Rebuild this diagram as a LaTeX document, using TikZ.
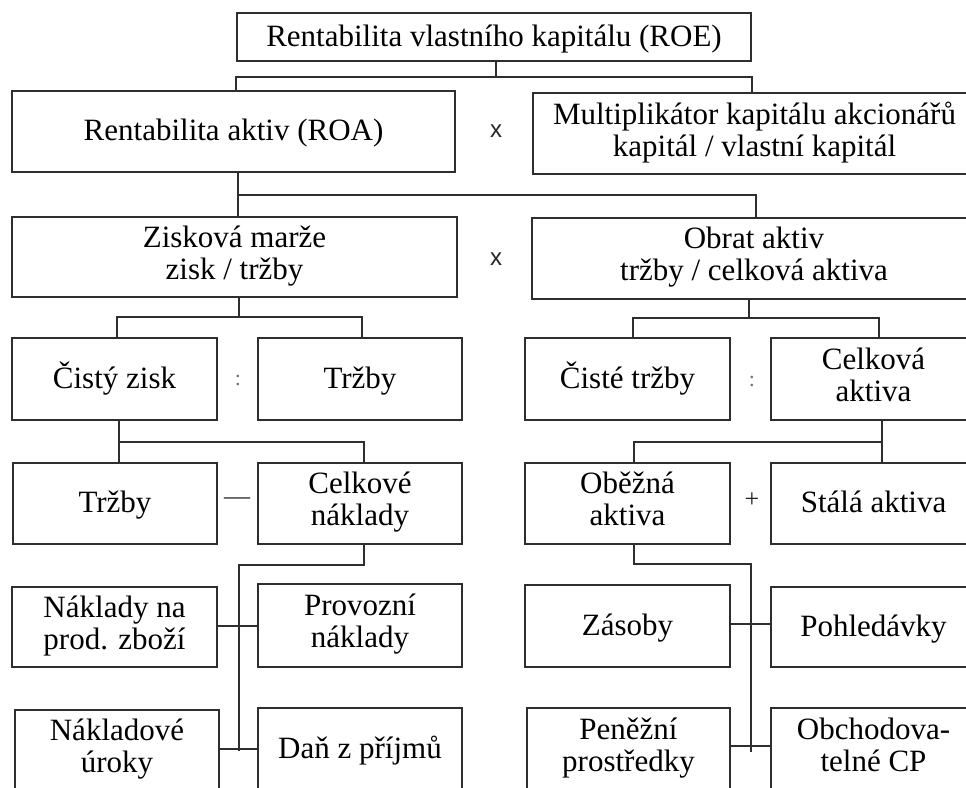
\documentclass[tikz,border=0pt]{standalone}
\usepackage{fontspec}
\setmainfont{Liberation Serif}
\newfontfamily\opfont{Liberation Sans}
\definecolor{linec}{HTML}{2E2E2E}
\tikzset{
  box/.style={draw=linec, line width=1.6pt, fill=white, inner sep=0pt, align=center,
    font=\fontsize{31}{32}\selectfont, text=black,
    execute at begin node={\rule{0pt}{27pt}}, execute at end node={\rule[-9pt]{0pt}{0pt}}},
  conn/.style={draw=linec, line width=1.6pt},
  opx/.style={inner sep=0pt, font=\opfont\fontsize{24}{24}\selectfont, text=black!85},
  opc/.style={inner sep=0pt, font=\fontsize{22}{22}\selectfont, text=black!55},
  opm/.style={inner sep=0pt, font=\fontsize{26}{26}\selectfont, text=black!85}
}
\begin{document}
\begin{tikzpicture}[x=1pt,y=-1pt]
\useasboundingbox (0,0) rectangle (966,787);
\clip (0,0) rectangle (966,787);
\fill[white] (0,0) rectangle (966,787);

\coordinate (trunkL) at (239,751);
\coordinate (trunkR) at (751,752);

% nodes
\node[box, minimum width=514pt, minimum height=48pt] (roe) at (494,37) {Rentabilita vlastního kapitálu (ROE)};
\node[box, minimum width=443pt, minimum height=81pt] (roa) at (233.5,131.5) {Rentabilita aktiv (ROA)};
\node[box, minimum width=443pt, minimum height=81pt] (mult) at (754.5,133.5) {Multiplikátor kapitálu akcionářů\\kapitál / vlastní kapitál};
\node[box, minimum width=445pt, minimum height=80pt] (zisk) at (234.5,257) {Zisková marže\\zisk / tržby};
\node[box, minimum width=444pt, minimum height=81pt] (obrat) at (754,258.5) {Obrat aktiv\\tržby / celková aktiva};

\node[box, minimum width=205pt, minimum height=82pt] (cz) at (114.5,379) {Čistý zisk};
\node[box, minimum width=204pt, minimum height=82pt] (trz) at (360,379) {Tržby};
\node[box, minimum width=205pt, minimum height=82pt] (ct) at (627.5,379) {Čisté tržby};
\node[box, minimum width=205pt, minimum height=82pt] (ca) at (873.5,379) {Celková\\aktiva};

\node[box, minimum width=204pt, minimum height=81pt] (trz2) at (115,503.5) {Tržby};
\node[box, minimum width=204pt, minimum height=81pt] (cn) at (360,503.5) {Celkové\\náklady};
\node[box, minimum width=205pt, minimum height=81pt] (oa) at (627.5,503.5) {Oběžná\\aktiva};
\node[box, minimum width=205pt, minimum height=81pt] (sa) at (873.5,503.5) {Stálá aktiva};

\node[box, minimum width=205pt, minimum height=80pt] (np) at (114.5,627) {Náklady na\\prod. zboží};
\node[box, minimum width=204pt, minimum height=83pt] (pn) at (360,625.5) {Provozní\\náklady};
\node[box, minimum width=205pt, minimum height=82pt] (zas) at (627.5,626) {Zásoby};
\node[box, minimum width=205pt, minimum height=80pt] (poh) at (873.5,627) {Pohledávky};

\node[box, minimum width=204pt, minimum height=80pt] (nu) at (117,750) {Nákladové\\úroky};
\node[box, minimum width=204pt, minimum height=82pt] (dan) at (360,749) {Daň z příjmů};
\node[box, minimum width=203pt, minimum height=82pt] (pp) at (628.5,749) {Peněžní\\prostředky};
\node[box, minimum width=205pt, minimum height=82pt] (ocp) at (873.5,749) {Obchodova-\\telné CP};

% connectors
\draw[conn] ([xshift=2pt]roe.south) -- ++(0,15) coordinate (b1);
\draw[conn] ([xshift=2.5pt]roa.north) |- (b1) -| ([xshift=-2.5pt]mult.north);

\draw[conn] ([xshift=4.5pt]roa.south) -- ++(0,22) coordinate (b2);
\draw[conn] ([xshift=3.5pt]zisk.north) |- (b2) -| ([xshift=2pt]obrat.north);

\draw[conn] ([xshift=4.5pt]zisk.south) -- ++(0,19) coordinate (b3);
\draw[conn] ([xshift=2.5pt]cz.north) |- (b3) -| ([xshift=2pt]trz.north);

\draw[conn] ([xshift=4.5pt]cz.south) -- ++(0,21) coordinate (b4);
\draw[conn] ([xshift=4pt]trz2.north) |- (b4) -| ([xshift=4pt]cn.north);

\draw[conn] ([xshift=-5pt]obrat.south) -- ++(0,18) coordinate (b5);
\draw[conn] ([xshift=5.5pt]ct.north) |- (b5) -| ([xshift=5.5pt]ca.north);

\draw[conn] ([xshift=8.5pt]ca.south) -- ++(0,21) coordinate (b6) -- ([xshift=8.5pt]sa.north);
\draw[conn] ([xshift=6.5pt]oa.north) |- (b6);

\draw[conn] ([xshift=4pt]cn.south) -- ++(0,20) -| (trunkL);
\draw[conn] ([yshift=1pt]np.east) -- ([yshift=1pt]np.east -| pn.west);
\draw[conn] ([yshift=1pt]nu.east) -- ([yshift=1pt]nu.east -| dan.west);

\draw[conn] ([xshift=6.5pt]oa.south) -- ++(0,19) -| (trunkR);
\draw[conn] ([yshift=2pt]zas.east) -- ([yshift=2pt]zas.east -| poh.west);
\draw[conn] ([yshift=3pt]pp.east) -- ([yshift=3pt]pp.east -| ocp.west);

% operators
\node[opx] (ox1) at (496,131) {x};
\node[opx] (ox2) at (496,259) {x};
\node[opc] (oc1) at (238,380) {:};
\node[opc] (oc2) at (752,381) {:};
\node[opm] (om1) at (237,501) {—};
\node[opm] (op1) at (752,500) {+};
\end{tikzpicture}
\end{document}
